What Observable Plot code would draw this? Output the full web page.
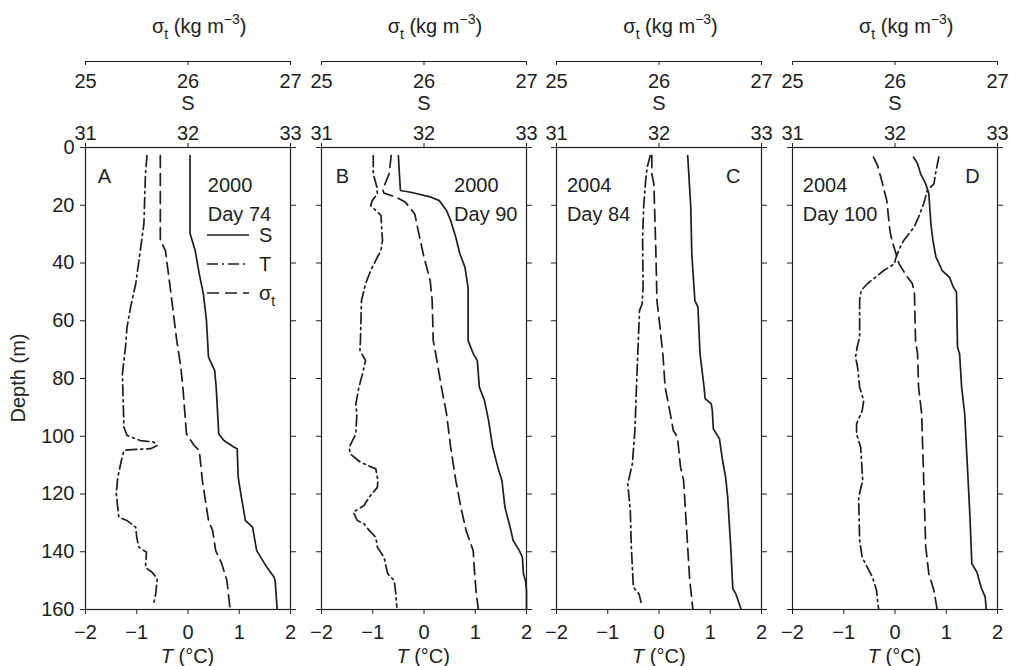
<!DOCTYPE html>
<html>
<head>
<meta charset="utf-8">
<script src="https://cdn.jsdelivr.net/npm/d3@7"></script>
<script src="https://cdn.jsdelivr.net/npm/@observablehq/plot@0.6"></script>
<style>
  html, body { margin: 0; padding: 0; background: white; }
  #wrap { position: relative; width: 1009px; height: 666px; background: white; overflow: hidden;
          font-family: "Liberation Sans", Arial, Helvetica, sans-serif; color: #222; }
  .lbl { position: absolute; font-size: 20px; line-height: 1; white-space: nowrap; }
  .sub { font-size: 14px; position: relative; top: 6px; }
  .sup { font-size: 14px; position: relative; top: -9px; }
</style>
</head>
<body>
<div id="wrap"></div>
<script>
// ---------------- data: [depth (m), value] ----------------
const panelIds = ["A", "B", "C", "D"];
const panelYears = ["2000", "2000", "2004", "2004"];
const panelDays = ["Day 74", "Day 90", "Day 84", "Day 100"];
const depthTicks = [0, 20, 40, 60, 80, 100, 120, 140, 160];
const tTicks = [-2, -1, 0, 1, 2];
const sTicks = [31, 32, 33];
const sigTicks = [25, 26, 27];

const A_S = [[2.8,32.02],[29.8,32.02],[35.7,32.07],[43.8,32.11],[50.7,32.15],[59.9,32.18],[72.6,32.20],[77.2,32.26],[83,32.275],[99.2,32.30],[101.5,32.35],[103.8,32.45],[104.3,32.48],[114.2,32.49],[118.8,32.51],[129.2,32.56],[131.5,32.63],[139.6,32.67],[145.4,32.77],[148.8,32.84],[150,32.85],[159.8,32.87]];
const A_sig = [[2.8,25.73],[32.2,25.73],[35.7,25.78],[49.5,25.83],[66.8,25.89],[76.1,25.93],[83,25.95],[99.2,25.985],[103.2,26.06],[104.9,26.11],[115.3,26.14],[129.2,26.20],[132.6,26.24],[139.6,26.27],[144.2,26.33],[150,26.38],[159.8,26.41]];
const A_T = [[2.8,-0.80],[9.1,-0.83],[26.4,-0.86],[35.7,-0.93],[47.2,-1.02],[55.3,-1.12],[62.2,-1.19],[69.2,-1.22],[78.4,-1.28],[96.9,-1.25],[99.7,-1.19],[101.5,-0.93],[102,-0.67],[103.2,-0.60],[104.3,-0.73],[104.6,-1.09],[104.9,-1.25],[108.4,-1.30],[114.2,-1.37],[119.9,-1.40],[128,-1.35],[129.2,-1.19],[131.5,-1.02],[135,-1.00],[138.4,-0.96],[140.2,-0.81],[145.4,-0.83],[147.1,-0.70],[149.4,-0.60],[154.6,-0.63],[158,-0.67]];

const B_S = [[2.8,31.75],[9.1,31.76],[14.9,31.77],[15.5,31.87],[17.2,32.07],[18.4,32.15],[21.8,32.22],[25.3,32.26],[31.1,32.31],[36.8,32.35],[41.5,32.40],[48.4,32.43],[66.8,32.43],[71.4,32.48],[73.8,32.52],[83,32.54],[87.6,32.59],[94.6,32.63],[103.8,32.67],[110.7,32.72],[115.3,32.76],[124.6,32.79],[131.5,32.84],[136.1,32.87],[139.6,32.93],[141.9,32.96],[147.6,32.97],[150,32.99],[153.4,33.0],[159.8,33.0]];
const B_sig = [[2.8,25.68],[9.1,25.66],[12.6,25.62],[14.9,25.60],[15.8,25.61],[17.2,25.73],[19,25.82],[23,25.91],[29.9,25.95],[38,26.00],[46,26.06],[53,26.08],[66.8,26.09],[72.6,26.12],[83,26.17],[92.2,26.22],[103.8,26.26],[115.3,26.31],[124.6,26.36],[132.6,26.41],[139.6,26.48],[145.4,26.49],[154.6,26.51],[159.8,26.53]];
const B_T = [[2.8,-0.99],[9.1,-0.99],[13.7,-0.92],[16,-0.91],[18.4,-1.01],[20.1,-1.04],[23.5,-0.84],[32.2,-0.81],[35.7,-0.84],[38,-0.91],[42.6,-1.04],[47.2,-1.14],[53,-1.22],[66.8,-1.24],[70.3,-1.25],[73.8,-1.14],[78.4,-1.20],[83,-1.27],[88.8,-1.33],[92.2,-1.31],[99.2,-1.33],[103.8,-1.46],[106.1,-1.44],[109,-1.24],[111.3,-0.94],[115.3,-0.90],[117.7,-0.91],[121.1,-1.07],[124,-1.17],[126.3,-1.38],[129.2,-1.30],[130.3,-1.17],[132.6,-1.07],[135,-0.94],[138.4,-0.91],[141.9,-0.78],[147.6,-0.71],[150,-0.58],[154.6,-0.55],[159.2,-0.53]];

const C_S = [[2.8,32.28],[20.7,32.31],[36.8,32.32],[53,32.35],[55.3,32.38],[71.4,32.40],[83,32.44],[87,32.45],[88.8,32.51],[91.1,32.52],[97.4,32.53],[100.9,32.59],[108.4,32.62],[114.2,32.65],[121.1,32.67],[138.4,32.70],[152.8,32.72],[154.6,32.75],[159.8,32.80]];
const C_sig = [[2.8,25.93],[9.1,25.93],[12.6,25.95],[36.8,25.97],[53,25.98],[62.2,26.01],[72.6,26.04],[83,26.06],[92.2,26.11],[98,26.14],[100.3,26.18],[110.7,26.21],[115.3,26.24],[121.1,26.25],[138.4,26.28],[150,26.30],[159.8,26.33]];
const C_T = [[2.8,-0.17],[6.8,-0.23],[11.4,-0.26],[20.7,-0.30],[32.2,-0.32],[48.4,-0.31],[54.2,-0.33],[56.5,-0.38],[83,-0.44],[98,-0.47],[109.6,-0.52],[116.5,-0.61],[125.8,-0.56],[138.4,-0.54],[152.3,-0.50],[154.6,-0.39],[157.5,-0.35]];

const D_S = [[3.3,32.18],[5.6,32.22],[9.1,32.25],[12.6,32.30],[16,32.33],[26.4,32.35],[32.2,32.37],[38,32.40],[42.6,32.46],[44.9,32.53],[48.4,32.57],[50.1,32.60],[69.2,32.61],[71.4,32.63],[83,32.65],[92.2,32.68],[106.1,32.70],[126.9,32.73],[144.2,32.75],[147.1,32.80],[152.3,32.84],[155.7,32.88],[159.8,32.89]];
const D_sig = [[3.3,25.79],[6.2,25.83],[11.4,25.87],[18.4,25.92],[28.7,25.95],[32.2,25.97],[35.7,26.00],[40.3,26.04],[43.8,26.10],[47.2,26.17],[50.7,26.19],[66.8,26.20],[71.4,26.22],[83,26.23],[92.2,26.26],[115.3,26.28],[138.4,26.30],[147.6,26.33],[153.4,26.38],[159.8,26.41]];
const D_T = [[3.3,0.855],[9.1,0.79],[12.6,0.76],[14.9,0.63],[19.5,0.56],[24.1,0.46],[27.6,0.37],[32.2,0.17],[35.7,0.07],[38.6,0.01],[40.3,-0.01],[42.6,-0.22],[44.9,-0.38],[47.2,-0.54],[49.5,-0.66],[53,-0.69],[65.7,-0.69],[69.2,-0.74],[72.6,-0.77],[76.1,-0.73],[83,-0.69],[87.6,-0.61],[91.1,-0.64],[95.7,-0.75],[99.2,-0.75],[103.8,-0.67],[115.3,-0.63],[121.1,-0.71],[136.1,-0.69],[141.9,-0.64],[145.4,-0.54],[148.8,-0.44],[153.4,-0.36],[156.9,-0.34],[159.8,-0.32]];

const seriesS = [A_S, B_S, C_S, D_S];
const seriesSig = [A_sig, B_sig, C_sig, D_sig];
const seriesT = [A_T, B_T, C_T, D_T];

// ---------------- layout ----------------
const INK = "#1e1e1e";
const L0 = 85, STEP = 235.67, PW = 205, ML = 40, MR = 40, H = 666, MT = 147, MB = 57;
const DASH_T = "11,4,2,4";
const DASH_SIG = "12,6";
const LW = 1.7;
const wrap = document.getElementById("wrap");
const baseStyle = { background: "transparent", overflow: "visible", fontFamily: "'Liberation Sans', Arial, Helvetica, sans-serif", fontSize: "20px", color: INK };
const minus = d => (d < 0 ? "\u2212" + Math.abs(d) : String(d));
const plain = d => String(d);
const dep = d => d[0], val = d => d[1];

function place(node, left) {
  node.style.position = "absolute";
  node.style.left = left + "px";
  node.style.top = "0px";
  node.style.maxWidth = "none";
  wrap.append(node);
}
function label(html, left, top, extra) {
  const div = document.createElement("div");
  div.className = "lbl";
  div.innerHTML = html;
  div.style.left = left + "px";
  div.style.top = top + "px";
  if (extra) Object.assign(div.style, extra);
  wrap.append(div);
  return div;
}

const common = { width: PW + ML + MR, height: H, marginLeft: ML, marginRight: MR, marginTop: MT, marginBottom: MB, style: baseStyle };
const yScale = { domain: [0, 160], reverse: true };

const letterDx = [19, 21, 176.7, 180];
const textDx = [122.3, 132.6, 10.4, 10.3];

panelIds.forEach((id, i) => {
  const L = L0 + i * STEP;

  // Temperature layer (bottom axis, frame, depth axis, annotations)
  const tPlot = Plot.plot({
    ...common,
    x: { domain: [-2, 2] },
    y: yScale,
    marks: [
      Plot.frame({ stroke: INK, strokeWidth: 1.2 }),
      Plot.axisX({ anchor: "bottom", ticks: tTicks, tickSize: 5, tickPadding: 10, tickFormat: minus, label: null, stroke: INK }),
      Plot.axisY({ anchor: "left", ticks: depthTicks, tickSize: 5, tickPadding: 6, tickFormat: i === 0 ? plain : () => "", label: null, stroke: INK }),
      Plot.axisY({ anchor: "right", ticks: depthTicks, tickSize: 5, tickFormat: () => "", label: null, stroke: INK }),
      Plot.line(seriesT[i], { x: val, y: dep, stroke: INK, strokeWidth: LW, strokeDasharray: DASH_T }),
      Plot.text([id], { frameAnchor: "top-left", dx: letterDx[i], dy: 21, textAnchor: "middle", fontSize: 20, fill: INK }),
      Plot.text([panelYears[i]], { frameAnchor: "top-left", dx: textDx[i], dy: 30, textAnchor: "start", fontSize: 20, fill: INK }),
      Plot.text([panelDays[i]], { frameAnchor: "top-left", dx: textDx[i], dy: 59, textAnchor: "start", fontSize: 20, fill: INK })
    ]
  });
  place(tPlot, L - ML);

  // Salinity layer (top axis)
  const sPlot = Plot.plot({
    ...common,
    x: { domain: [31, 33] },
    y: { ...yScale, axis: null },
    marks: [
      Plot.line(seriesS[i], { x: val, y: dep, stroke: INK, strokeWidth: LW }),
      Plot.axisX({ anchor: "top", ticks: sTicks, tickSize: 5, tickPadding: 3, tickFormat: plain, label: null, stroke: INK }),
      Plot.text(["S"], { frameAnchor: "top", dy: -52, fontSize: 20, fill: INK })
    ]
  });
  place(sPlot, L - ML);

  // Sigma-t layer (detached top axis)
  const gPlot = Plot.plot({
    ...common,
    x: { domain: [25, 27] },
    y: { ...yScale, axis: null },
    marks: [
      Plot.line(seriesSig[i], { x: val, y: dep, stroke: INK, strokeWidth: LW, strokeDasharray: DASH_SIG }),
      Plot.ruleY([0], { dy: -86, stroke: INK, strokeWidth: 1.2 }),
      Plot.axisX({ anchor: "bottom", dy: -548, ticks: sigTicks, tickSize: 4, tickPadding: 8, tickFormat: plain, label: null, stroke: INK })
    ]
  });
  place(gPlot, L - ML);

  // titles
  label('\u03c3<span class="sub">t</span> (kg m<span class="sup">\u22123</span>)', L + 67, 16);
  label('<i>T</i> (\u00b0C)', L + PW / 2, 646, { transform: "translateX(-50%)" });
});

// Depth axis title
label("Depth (m)", 18, 378, { transform: "translate(-50%,-50%) rotate(-90deg)" });

// Legend in panel A
const legendRows = [
  { name: "S", dash: null },
  { name: "T", dash: DASH_T },
  { name: '\u03c3<span class="sub">t</span>', dash: DASH_SIG }
];
legendRows.forEach((r, k) => {
  const y = 235 + k * 29;
  const ns = "http://www.w3.org/2000/svg";
  const svg = document.createElementNS(ns, "svg");
  svg.setAttribute("width", 44); svg.setAttribute("height", 6);
  svg.style.position = "absolute"; svg.style.left = "206px"; svg.style.top = (y - 3) + "px";
  const ln = document.createElementNS(ns, "line");
  ln.setAttribute("x1", 1); ln.setAttribute("x2", 43); ln.setAttribute("y1", 3); ln.setAttribute("y2", 3);
  ln.setAttribute("stroke", INK); ln.setAttribute("stroke-width", LW);
  if (r.dash) ln.setAttribute("stroke-dasharray", r.dash);
  svg.append(ln);
  wrap.append(svg);
  label(r.name, 259, y - 10);
});
</script>
</body>
</html>
